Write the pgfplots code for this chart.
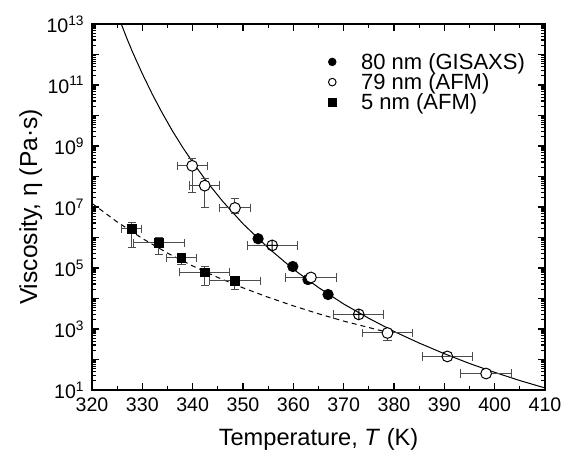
\documentclass[border=0pt]{standalone}
\usepackage{fontspec}
\setmainfont{Liberation Sans}
\usepackage{pgfplots}
\pgfplotsset{compat=1.18}
\begin{document}
\fontsize{10.5}{12.6}\selectfont
\begin{tikzpicture}
\begin{axis}[
  scale only axis, width=226.5pt, height=183pt,
  xmin=320, xmax=410,
  ymode=log, ymin=1e1, ymax=1e13,
  xtick={320,330,...,410}, minor x tick num=1,
  ytickten={1,...,13},
  yticklabels={10\textsuperscript{1},{},10\textsuperscript{3},{},10\textsuperscript{5},{},10\textsuperscript{7},{},10\textsuperscript{9},{},10\textsuperscript{11},{},10\textsuperscript{13}},
  /pgf/number format/assume math mode=true,
  ticklabel style={font=\fontsize{9.8}{11.5}\selectfont},
  tick align=inside, major tick length=3.5pt, minor tick length=2.2pt,
  axis line style={line width=0.7pt},
  every tick/.style={black,line width=0.6pt},
  xlabel={Temperature, \textit{T} (K)},
  ylabel={Viscosity, η (Pa·s)},
  xlabel style={font=\fontsize{11.8}{14}\selectfont},
  ylabel style={font=\fontsize{12.3}{14}\selectfont},
  ylabel shift=-5pt, xlabel shift=1.5pt,
  legend cell align=left,
  legend style={draw=none, fill=none, inner sep=0pt, outer sep=0pt,
    at={(0.522,0.924)}, anchor=north west, column sep=12pt,
    font=\fontsize{11}{13}\selectfont,
    nodes={inner sep=0.5pt, text height=8.3pt, text depth=0.8pt}},
  legend image post style={mark size=1.9pt},
  error bars/error bar style={black!70, line width=0.5pt},
  error bars/error mark options={black!70, rotate=90, mark size=2.1pt, line width=0.5pt},
]
% fitted curves
\addplot[black, line width=0.5pt, forget plot] coordinates {
(325,2.2e13) (327,3.16e12) (328,1.26e12) (330,2.34e11) (332,4.90e10)
(334,1.17e10) (336,3.09e9) (338,9.12e8) (340,2.95e8) (343,6.17e7)
(346,1.51e7) (350,2.82e6) (355,4.57e5) (360,9.12e4) (365,2.29e4)
(370,6.61e3) (375,2.24e3) (380,8.32e2) (385,3.47e2) (390,1.55e2)
(395,74.1) (400,38.0) (405,20.4) (410,11.7)};
\addplot[black, line width=0.5pt, dash pattern=on 2.5pt off 2pt, forget plot] coordinates {
(320,1.32e7) (325,3.24e6) (330,9.33e5) (335,3.09e5) (340,1.17e5)
(345,4.90e4) (350,2.24e4) (355,1.10e4) (360,5.75e3) (365,3.16e3)
(370,1.82e3) (375,1.12e3) (379,7.59e2)};

% 80 nm GISAXS
\addplot[only marks, mark=*, mark size=2.6pt, black] coordinates {
(353.0,9.12e5) (359.9,1.12e5) (362.9,4.17e4) (366.9,1.35e4)};
\addlegendentry{80 nm (GISAXS)}

% 79 nm AFM
\addplot[only marks, mark=*, mark size=2.7pt, black, mark options={fill=white, line width=0.5pt},
  error bars/.cd, x dir=both, x explicit, y dir=both, y explicit] coordinates {
(339.9,2.24e8) += (3,1.74e8) -= (3,1.95e8)
(342.4,5.01e7) += (3,3.9e7) -= (3,4.08e7)
(348.4,9.33e6) += (3,9.3e6) -= (3,3.0e6)
(378.7,7.41e2) += (5,1.5e2) -= (5,3.14e2)};
\addlegendentry{79 nm (AFM)}
\addplot[only marks, mark=*, mark size=2.7pt, black, mark options={fill=white, line width=0.5pt}, forget plot,
  error bars/.cd, x dir=both, x explicit] coordinates {
(363.5,4.90e4) +- (5,0)
(398.3,34.7) +- (5,0)};
\addplot[only marks, mark=o, mark size=2.7pt, black, mark options={line width=0.5pt}, forget plot,
  error bars/.cd, x dir=both, x explicit] coordinates {
(390.6,1.26e2) +- (5,0)};
\addplot[only marks, mark=oplus, mark size=2.7pt, black, mark options={line width=0.5pt}, forget plot,
  error bars/.cd, x dir=both, x explicit] coordinates {
(355.8,5.50e5) +- (5,0)
(373.0,3.02e3) +- (5,0)};

% 5 nm AFM
\addplot[only marks, mark=square*, mark size=2.1pt, black,
  error bars/.cd, x dir=both, x explicit, y dir=both, y explicit] coordinates {
(327.9,1.91e6) += (2,1.18e6) -= (2,1.43e6)
(333.3,6.61e5) += (5,3.39e5) -= (5,3.86e5)
(337.8,2.14e5) += (3,0.95e5) -= (3,0.85e5)
(342.4,7.24e4) += (5,3.96e4) -= (5,4.61e4)
(348.4,3.80e4) += (5,1.57e4) -= (5,1.85e4)};
\addlegendentry{5 nm (AFM)}

\coordinate (sw) at (rel axis cs:0,0);
\coordinate (ne) at (rel axis cs:1,1);
\end{axis}
\pgfresetboundingbox
\path ([shift={(-46pt,-34pt)}]sw) rectangle ([shift={(10pt,12pt)}]ne);
\end{tikzpicture}
\end{document}
